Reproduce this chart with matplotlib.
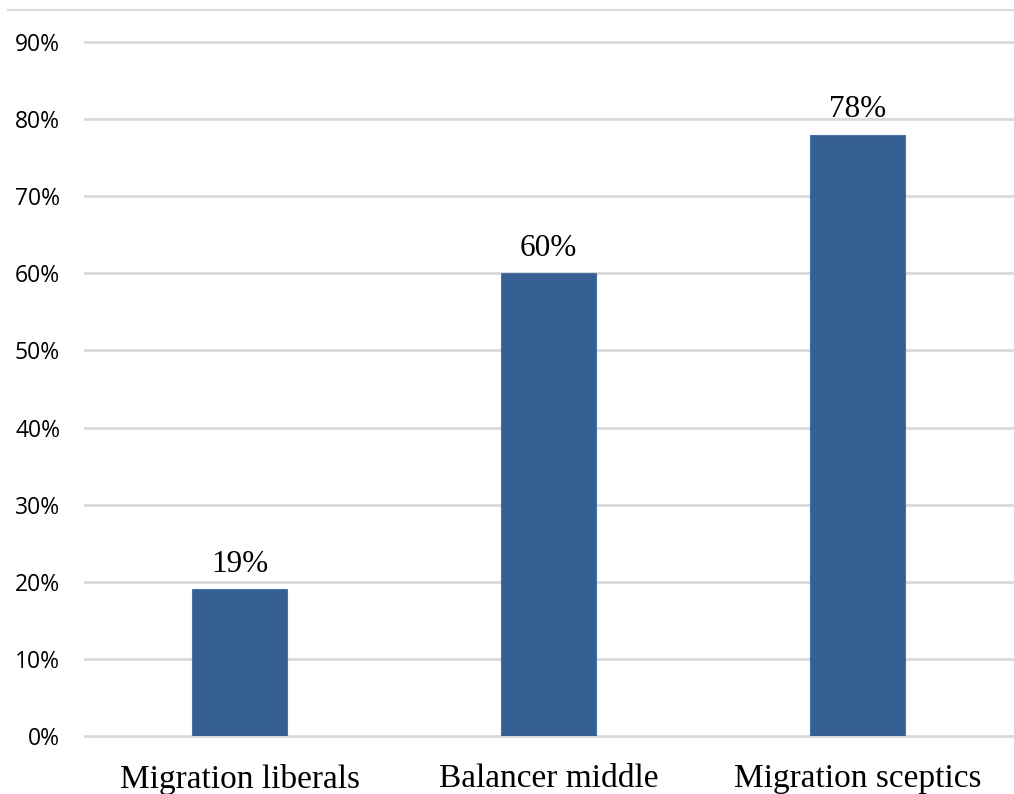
import matplotlib.pyplot as plt
from matplotlib.lines import Line2D

categories = ["Migration liberals", "Balancer middle", "Migration sceptics"]
values = [19, 60, 78]
yticks = [0, 10, 20, 30, 40, 50, 60, 70, 80, 90]
ytick_labels = [f"{v}%" for v in yticks]

fig = plt.figure(figsize=(10.14, 7.94), dpi=100)
ax = fig.add_axes([85/1014, 1 - 736/794, 927/1014, (736-42)/794])

x = list(range(len(categories)))
ax.bar(x, values, width=0.31, color="#376092", edgecolor="#4a72a3", linewidth=0.8, zorder=3)
for xi, v in zip(x, values):
    ax.text(xi, v + 1.4, f"{v}%", ha="center", va="bottom", fontsize=22.5,
            family="Liberation Serif", color="black")

ax.set_xlim(-0.5, 2.5)
ax.set_ylim(0, 90)
ax.set_yticks(yticks)
ax.set_yticklabels(ytick_labels, family="Open Sans", fontsize=16.5)
ax.set_xticks(x)
ax.set_xticklabels(categories, family="Liberation Serif", fontsize=24)
ax.yaxis.grid(True, color="#d9d9d9", linewidth=2, zorder=0)
for gl in ax.get_ygridlines():
    gl.set_clip_on(False)
ax.tick_params(axis="both", length=0)
ax.tick_params(axis="y", pad=18)
ax.tick_params(axis="x", pad=20)
for s in ax.spines.values():
    s.set_visible(False)

fig.add_artist(Line2D([8/1014, 1.0], [1 - 10/794, 1 - 10/794], color="#d9d9d9", linewidth=1.5))

fig.savefig("out.png", dpi=100)
